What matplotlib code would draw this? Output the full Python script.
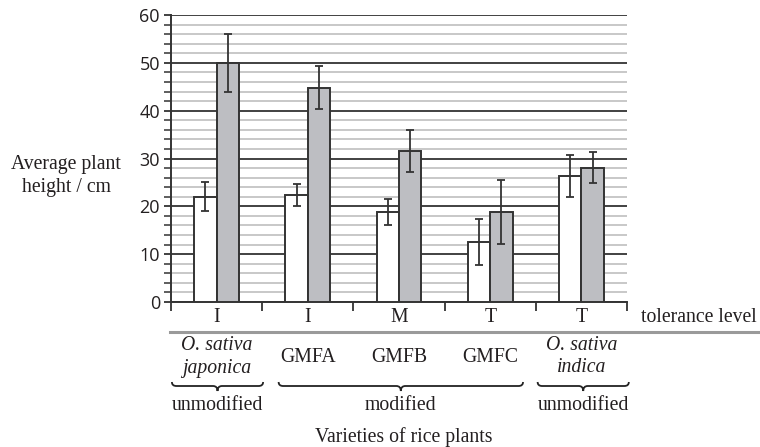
import matplotlib
matplotlib.use("Agg")
import matplotlib.pyplot as plt
import matplotlib.transforms as mtransforms
from matplotlib.path import Path
from matplotlib.patches import PathPatch
from matplotlib.lines import Line2D
import numpy as np

# ---- data ----
tolerance = ["I", "I", "M", "T", "T"]
varieties = ["O. sativa\njaponica", "GMFA", "GMFB", "GMFC", "O. sativa\nindica"]
white_vals = [22.0, 22.3, 18.8, 12.5, 26.4]
white_err = [3.0, 2.3, 2.8, 4.8, 4.4]
gray_vals = [50.0, 44.8, 31.6, 18.8, 28.1]
gray_err = [6.0, 4.5, 4.4, 6.7, 3.3]
groups = [("unmodified", 0.01, 1.01), ("modified", 1.18, 3.86), ("unmodified", 4.02, 5.02)]

W, H = 760, 447
fig = plt.figure(figsize=(W / 100, H / 100), dpi=100)
ax = fig.add_axes([171 / W, 1 - 302 / H, (627 - 171) / W, (302 - 15) / H])

serif = "Liberation Serif"
txtc = "#231f20"
edge = "#333333"
fs = 14.2

x = np.arange(len(tolerance)) + 0.5
bw = 0.245
ax.bar(x - bw / 2, white_vals, bw, color="white", edgecolor=edge, linewidth=1.4, zorder=3)
ax.bar(x + bw / 2, gray_vals, bw, color="#bdbec2", edgecolor=edge, linewidth=1.4, zorder=3)
ax.errorbar(x - bw / 2, white_vals, yerr=white_err, fmt="none", ecolor=edge, elinewidth=1.3,
            capsize=2.8, capthick=1.3, zorder=4)
ax.errorbar(x + bw / 2, gray_vals, yerr=gray_err, fmt="none", ecolor=edge, elinewidth=1.3,
            capsize=2.8, capthick=1.3, zorder=4)

ax.set_xlim(0, 5)
ax.set_ylim(0, 60)
ax.set_yticks(np.arange(0, 61, 10))
ax.set_yticks(np.arange(0, 61, 2), minor=True)
ax.set_xticks(np.arange(0, 6, 1))
ax.set_xticklabels([])
ax.tick_params(axis="y", which="major", length=5, width=1.3, color=edge, pad=3,
               labelsize=13, labelcolor=txtc)
ax.tick_params(axis="y", which="minor", length=5, width=1.1, color=edge)
ax.tick_params(axis="x", which="major", length=6.5, width=1.3, color=edge)
for lab in ax.get_yticklabels():
    lab.set_fontfamily("Open Sans")

ax.set_axisbelow(True)
ax.grid(axis="y", which="minor", color="#c4c4c4", linewidth=1.3)
ax.grid(axis="y", which="major", color="#333333", linewidth=1.3)
ax.grid(axis="x", which="both", visible=False)
for s in ["top", "right"]:
    ax.spines[s].set_visible(False)
for s in ["left", "bottom"]:
    ax.spines[s].set_color(edge)
    ax.spines[s].set_linewidth(1.4)

# texts below axis
bt = mtransforms.blended_transform_factory(ax.transData, fig.transFigure)
fy = lambda ypx: 1 - ypx / H
for xi, t in zip(x, tolerance):
    ax.text(xi, fy(318), t, transform=bt, ha="center", va="center", fontsize=fs,
            family=serif, color=txtc)
fig.text(641 / W, fy(318), "tolerance level", ha="left", va="center", fontsize=fs,
         family=serif, color=txtc)
fig.add_artist(Line2D([170 / W, 759 / W], [fy(332), fy(332)], color="#9a9a9a", linewidth=2.2))

for xi, t in zip(x, varieties):
    if "\n" in t:
        l1, l2 = t.split("\n")
        ax.text(xi, fy(345), l1, transform=bt, ha="center", va="center", fontsize=fs,
                family=serif, style="italic", color=txtc)
        ax.text(xi, fy(368), l2, transform=bt, ha="center", va="center", fontsize=fs,
                family=serif, style="italic", color=txtc)
    else:
        ax.text(xi, fy(357), t, transform=bt, ha="center", va="center", fontsize=fs,
                family=serif, color=txtc)


def brace(x0, x1, ypx):
    d = 4.5 / 91.2
    y = fy(ypx)
    up = 4 / H
    dn = 5 / H
    xm = (x0 + x1) / 2
    verts = [(x0, y + up), (x0, y), (x0 + d, y),
             (xm - d, y), (xm, y), (xm, y - dn),
             (xm, y), (xm + d, y),
             (x1 - d, y), (x1, y), (x1, y + up)]
    codes = [Path.MOVETO, Path.CURVE3, Path.CURVE3,
             Path.LINETO, Path.CURVE3, Path.CURVE3,
             Path.CURVE3, Path.CURVE3,
             Path.LINETO, Path.CURVE3, Path.CURVE3]
    p = PathPatch(Path(verts, codes), transform=bt, fill=False, edgecolor="#222222",
                  linewidth=1.3, clip_on=False)
    ax.add_artist(p)
    return xm


for name, a, b in groups:
    xm = brace(a, b, 386)
    ax.text(xm, fy(406), name, transform=bt, ha="center", va="center", fontsize=fs,
            family=serif, color=txtc)

fig.text(0.5 * (171 + 627) / W + 5 / W, fy(437), "Varieties of rice plants", ha="center",
         va="center", fontsize=fs, family=serif, color=txtc)
fig.text(66 / W, fy(176), "Average plant\nheight / cm", ha="center", va="center",
         fontsize=fs, family=serif, color=txtc, linespacing=1.35)

fig.savefig("out.png", dpi=100)
